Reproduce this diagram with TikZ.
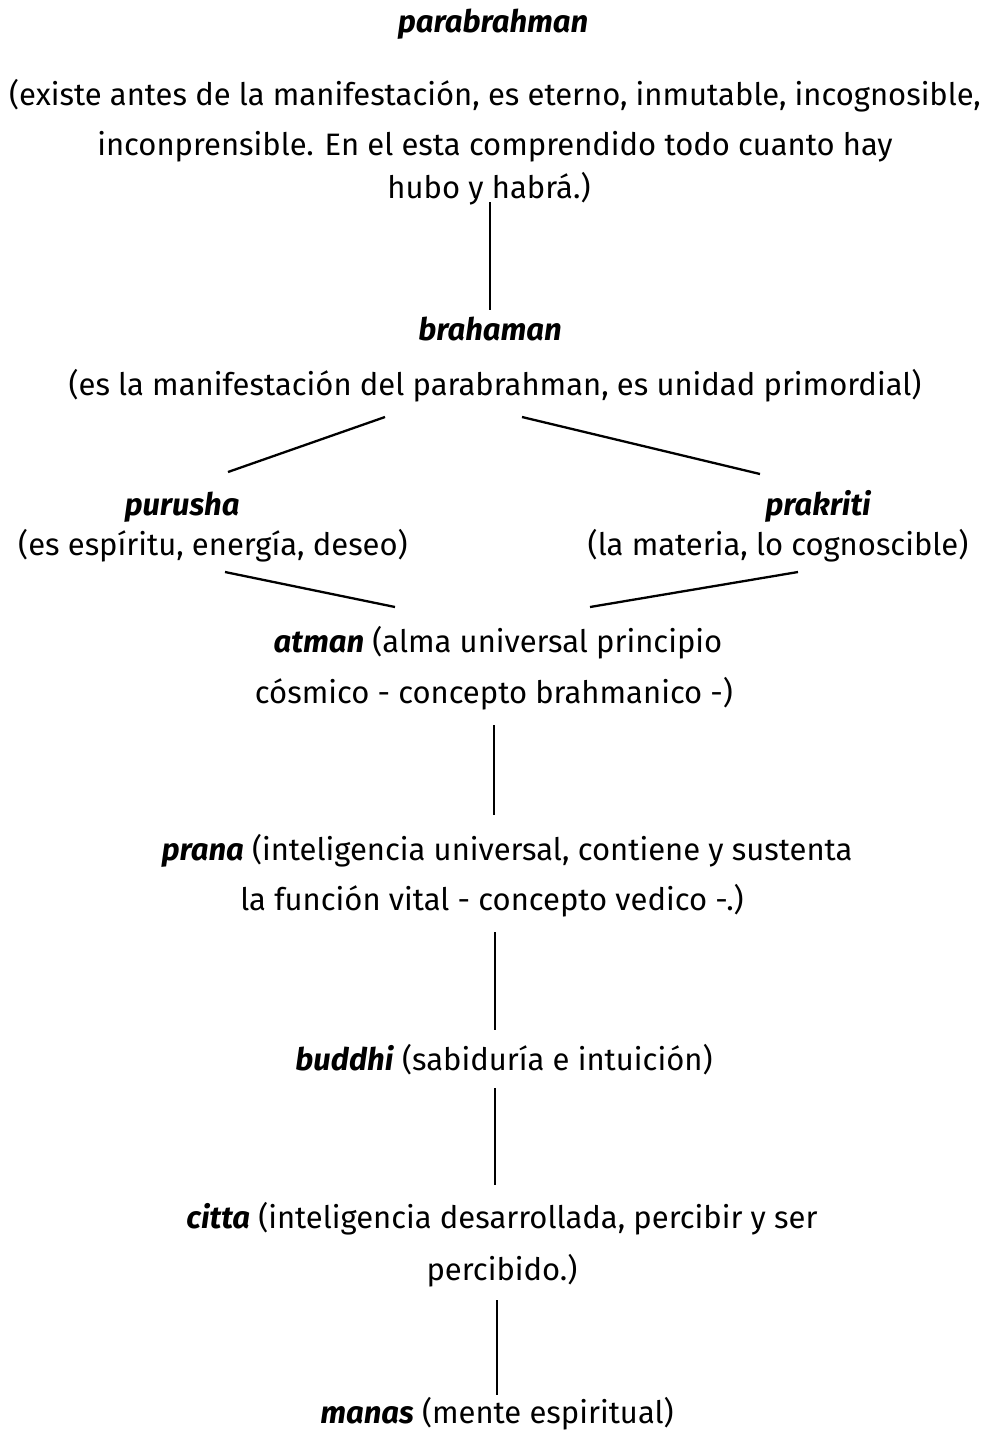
\documentclass[tikz,border=0pt]{standalone}
\usepackage{fontspec}
\setmainfont{Fira Sans}
\usetikzlibrary{positioning}

\tikzset{
  txt/.style={anchor=base, inner sep=0pt, font=\fontsize{31}{34}\selectfont},
  term/.style={txt, font=\fontsize{31}{34}\selectfont\bfseries\itshape},
  link/.style={line width=2.3pt},
  stem/.style={line width=1.6pt}
}
\newcommand{\kw}[1]{\textbf{\textit{#1}}}

\begin{document}
\begin{tikzpicture}[x=1pt,y=-1pt]
\useasboundingbox (0,0) rectangle (988,1436);

% parabrahman
\node[term] (para) at (493,32) {parabrahman};
\node[txt] (para1) at (495,105) {(existe antes de la manifestación, es eterno, inmutable, incognosible,};
\node[txt] (para2) at (495,155) {inconprensible. En el esta comprendido todo cuanto hay};
\node[txt] (para3) at (489,198) {hubo y habrá.)};

% brahaman
\node[term] (braha) at (490,340) {brahaman};
\node[txt] (braha1) at (495,395) {(es la manifestación del parabrahman, es unidad primordial)};

% purusha / prakriti
\node[term] (puru) at (182,515) {purusha};
\node[txt] (puru1) at (213,555) {(es espíritu, energía, deseo)};
\node[term] (prak) at (818,515) {prakriti};
\node[txt] (prak1) at (778,555) {(la materia, lo cognoscible)};

% atman
\node[txt] (atman) at (498,652) {\kw{atman} (alma universal principio};
\node[txt] (atman1) at (494,703) {cósmico - concepto brahmanico -)};

% prana
\node[txt] (prana) at (507,860) {\kw{prana} (inteligencia universal, contiene y sustenta};
\node[txt] (prana1) at (492,910) {la función vital - concepto vedico -.)};

% buddhi
\node[txt] (buddhi) at (504,1070) {\kw{buddhi} (sabiduría e intuición)};

% citta
\node[txt] (citta) at (502,1228) {\kw{citta} (inteligencia desarrollada, percibir y ser};
\node[txt] (citta1) at (502,1280) {percibido.)};

% manas
\node[txt] (manas) at (497,1423) {\kw{manas} (mente espiritual)};

% connector ends
\coordinate (v1a) at (490,202);  \coordinate (v1b) at (490,310);
\coordinate (c1) at (385,417);   \coordinate (c2) at (228,472);
\coordinate (c3) at (522,417);   \coordinate (c4) at (760,474);
\coordinate (c5) at (225,572);   \coordinate (c6) at (395,607);
\coordinate (c7) at (798,572);   \coordinate (c8) at (590,607);
\coordinate (v2a) at (494,725);  \coordinate (v2b) at (494,815);
\coordinate (v3a) at (495,932);  \coordinate (v3b) at (495,1030);
\coordinate (v4a) at (495,1088); \coordinate (v4b) at (495,1185);
\coordinate (v5a) at (497,1300); \coordinate (v5b) at (497,1395);

\draw[stem] (v1a) -- (v1b);
\draw[link] (c1) -- (c2);
\draw[link] (c3) -- (c4);
\draw[link] (c5) -- (c6);
\draw[link] (c7) -- (c8);
\draw[stem] (v2a) -- (v2b);
\draw[stem] (v3a) -- (v3b);
\draw[stem] (v4a) -- (v4b);
\draw[stem] (v5a) -- (v5b);
\end{tikzpicture}
\end{document}
